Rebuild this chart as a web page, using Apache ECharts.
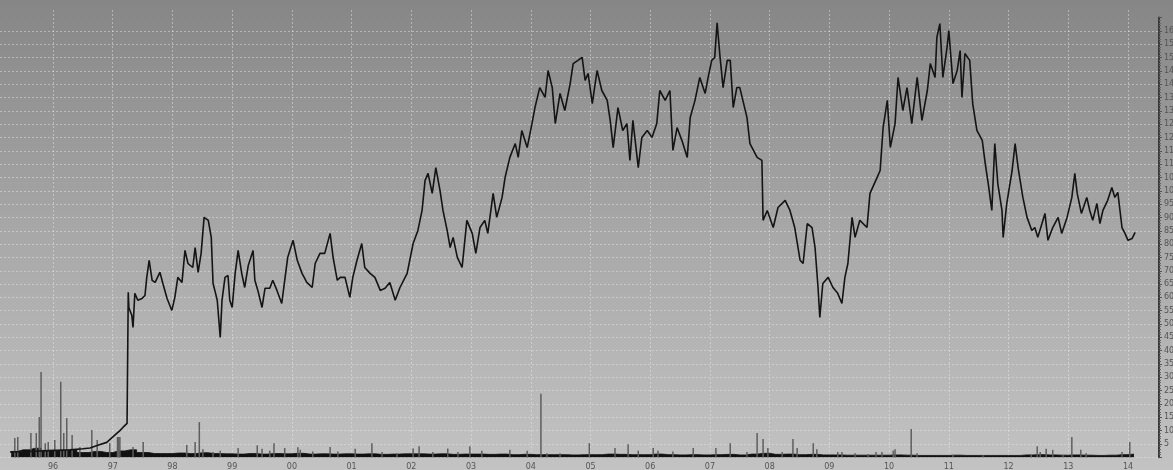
<!DOCTYPE html>
<html><head><meta charset="utf-8">
<script src="https://cdn.jsdelivr.net/npm/echarts@6/dist/echarts.min.js"></script>
<style>html,body{margin:0;padding:0;background:#a0a0a0;overflow:hidden}#c{width:1173px;height:470px}</style>
</head><body><div id="c"></div>
<script>
// price (decimal year, value)
const price = [
[1995.28,2.0],[1995.60,2.2],[1995.95,2.5],[1996.28,2.8],[1996.50,3.2],[1996.62,3.5],[1996.75,4.5],[1996.90,5.6],[1997.03,8.2],[1997.12,10.0],[1997.17,11.2],[1997.24,12.7],[1997.26,61.9],
[1997.27,56.2],[1997.32,53.2],[1997.34,48.7],[1997.37,61.5],[1997.42,58.9],[1997.49,59.6],[1997.54,60.7],[1997.57,67.5],[1997.61,73.9],[1997.66,66.4],[1997.71,65.6],[1997.79,69.4],[1997.84,65.2],[1997.91,59.6],[1997.99,55.1],
[1998.04,60],[1998.09,67.5],[1998.16,65.6],[1998.21,77.6],[1998.26,72.7],[1998.34,71.2],[1998.38,78.7],[1998.43,69.4],[1998.48,76.5],[1998.53,90],[1998.60,88.9],[1998.65,82.5],[1998.68,65.2],[1998.71,62.6],[1998.75,58.9],[1998.80,45],[1998.83,58.9],[1998.88,67.5],[1998.93,68.2],[1998.96,58.9],
[1999.00,56.2],[1999.05,69],[1999.10,77.6],[1999.16,69],[1999.21,63.7],[1999.27,72],[1999.35,77.6],[1999.38,66.4],[1999.43,62.6],[1999.50,56.2],[1999.55,63.4],[1999.63,63.4],[1999.68,66.4],[1999.75,62.6],[1999.83,57.7],[1999.88,66.4],[1999.93,75],
[2000.02,81.4],[2000.09,73.9],[2000.17,69],[2000.25,65.6],[2000.34,63.7],[2000.39,72.7],[2000.47,76.5],[2000.55,76.5],[2000.64,84],[2000.69,75],[2000.76,66.4],[2000.81,67.5],[2000.89,67.5],[2000.97,60],
[2001.02,67.5],[2001.09,73.9],[2001.17,80.2],[2001.22,71.2],[2001.31,69],[2001.39,67.5],[2001.48,62.6],[2001.56,63.4],[2001.64,65.6],[2001.73,58.9],[2001.81,63.7],[2001.93,69],
[2002.03,80.2],[2002.11,85.1],[2002.18,92.6],[2002.23,103.9],[2002.28,106.5],[2002.35,99],[2002.41,108.7],[2002.48,100.1],[2002.53,92.6],[2002.60,85.1],[2002.65,78.7],[2002.70,82.5],[2002.77,75],[2002.85,71.2],[2002.93,88.9],
[2003.02,84],[2003.08,76.5],[2003.15,86.2],[2003.23,88.9],[2003.28,84],[2003.37,99],[2003.43,90],[2003.52,97.5],[2003.57,105],[2003.65,112.5],[2003.74,117.7],[2003.79,112.5],[2003.85,122.6],[2003.94,116.2],
[2004.02,125.2],[2004.07,131.2],[2004.15,138.7],[2004.24,135],[2004.29,145.1],[2004.36,138.7],[2004.41,125.2],[2004.49,136.5],[2004.57,130.1],[2004.66,140.2],[2004.71,147.7],[2004.79,148.9],[2004.86,150],[2004.91,141.4],[2004.96,144],
[2005.03,132.7],[2005.11,145.1],[2005.19,137.6],[2005.28,133.9],[2005.33,126.4],[2005.38,116.2],[2005.46,131.2],[2005.54,122.6],[2005.61,125.2],[2005.66,111.4],[2005.71,126.4],[2005.80,108.7],[2005.86,120],[2005.95,122.6],
[2006.03,120],[2006.11,125.2],[2006.16,137.6],[2006.25,133.9],[2006.33,137.6],[2006.38,115.1],[2006.45,123.7],[2006.53,118.9],[2006.62,112.5],[2006.67,127.5],[2006.75,133.9],[2006.83,142.5],[2006.92,136.5],[2006.97,142.5],
[2007.03,148.9],[2007.08,150],[2007.12,163],[2007.17,150],[2007.22,138.7],[2007.29,148.9],[2007.34,148.9],[2007.39,131.2],[2007.45,138.7],[2007.50,138.7],[2007.62,127.5],[2007.67,117.7],[2007.79,112.5],[2007.87,111.4],[2007.89,88.9],[2007.96,92.6],
[2008.06,86.2],[2008.14,93.7],[2008.26,96.4],[2008.34,92.6],[2008.42,86.2],[2008.51,73.9],[2008.56,72.7],[2008.63,87.7],[2008.71,86.2],[2008.76,78.7],[2008.81,63.7],[2008.84,52.5],[2008.89,65.2],[2008.98,67.5],
[2009.06,63.7],[2009.14,61.5],[2009.21,57.7],[2009.26,67.5],[2009.31,72.7],[2009.38,90],[2009.43,82.5],[2009.51,88.9],[2009.63,86.2],[2009.68,99],[2009.80,105],[2009.85,107.6],[2009.90,123.7],[2009.97,133.9],
[2010.02,116.2],[2010.10,125.2],[2010.15,142.5],[2010.23,130.1],[2010.30,138.7],[2010.38,125.2],[2010.47,142.5],[2010.55,126.4],[2010.64,137.6],[2010.69,147.7],[2010.77,142.5],[2010.80,157.5],[2010.85,162.7],[2010.90,142.5],[2010.97,153.7],
[2011.00,160.1],[2011.07,140.2],[2011.14,145.1],[2011.19,152.6],[2011.22,135],[2011.27,151.5],[2011.35,148.9],[2011.40,132.7],[2011.47,122.6],[2011.56,118.9],[2011.61,110.2],[2011.66,102.7],[2011.72,92.6],[2011.77,117.7],[2011.82,102.7],[2011.89,92.6],[2011.91,82.5],[2011.97,95.2],
[2012.06,107.6],[2012.11,117.7],[2012.16,108.7],[2012.24,97.5],[2012.31,90],[2012.39,85.1],[2012.44,86.2],[2012.49,82.5],[2012.56,87.7],[2012.61,91.5],[2012.66,81.4],[2012.74,86.2],[2012.83,90],[2012.89,84],[2012.98,90],
[2013.06,97.5],[2013.11,106.5],[2013.15,99],[2013.22,91.5],[2013.31,97.5],[2013.36,92.6],[2013.41,88.9],[2013.48,95.2],[2013.53,87.7],[2013.58,92.6],[2013.66,96.4],[2013.73,101.2],[2013.78,97.5],[2013.83,99.4],[2013.90,86.2],[2013.95,84],
[2014.00,81.4],[2014.07,82.1],[2014.12,84.4]
];

// volume spikes (decimal year, height in price units)
const volSpikes = [
[1995.36,7.2],[1995.41,7.6],[1995.63,9.1],[1995.72,9.1],[1995.77,15.1],[1995.80,32],[1995.87,5.3],[1995.92,5.7],[1996.03,6.5],[1996.13,28.3],[1996.18,9.1],[1996.23,14.7],[1996.32,8.4],[1996.45,3.9],[1996.65,10.2],[1996.74,6.5],[1996.95,5.3],[1997.08,7.6],[1997.10,7.6],[1997.12,7.6],[1997.34,3.9],[1997.51,5.7],
[1998.24,4.6],[1998.38,5.7],[1998.45,13.2],[1998.51,3],[1998.68,2],[1998.80,2.5],[1999.10,3.5],[1999.42,4.5],[1999.50,3.2],[1999.63,2.5],[1999.70,5.3],[1999.88,3.5],[2000.10,3.8],[2000.14,2.8],[2000.35,2.2],[2000.64,3.9],[2000.77,2.2],
[2001.06,3.2],[2001.34,5.3],[2001.51,2],[2001.76,1.5],[2002.03,3.3],[2002.13,4.1],[2002.36,2],[2002.61,3.3],[2002.78,2],[2002.98,4.1],[2003.18,2.5],[2003.65,2.8],[2003.94,2.5],[2004.17,23.8],[2004.27,1.5],[2004.49,1.5],[2004.98,5.3],
[2005.41,3.5],[2005.63,4.9],[2005.80,2.5],[2006.05,3.5],[2006.13,2.5],[2006.38,2.2],[2006.72,3.5],[2007.10,3.5],[2007.34,5.3],[2007.62,2],[2007.79,9.1],[2007.89,6.9],[2007.97,3.5],[2008.21,2],[2008.39,6.9],[2008.46,3.5],[2008.73,5.3],[2008.79,3],
[2009.14,2],[2009.21,2],[2009.43,1.5],[2009.65,1.2],[2009.78,2],[2009.88,2],[2010.07,2.5],[2010.10,3],[2010.37,10.6],[2010.47,1.5],[2011.07,1],[2011.57,0.8],[2012.38,1],[2012.48,4.1],[2012.53,2],[2012.63,3.2],[2012.74,2.8],[2012.91,1],
[2013.06,7.6],[2013.21,2.8],[2013.30,1.5],[2013.90,2],[2014.03,5.7]
];

// dense dark volume band (decimal year, height)
const volBase = [
[1995.3,2.2],[1995.5,2.8],[1995.7,3.4],[1995.9,2.6],[1996.1,2.4],[1996.3,2.8],[1996.5,1.8],[1996.7,2.2],[1996.9,1.8],[1997.1,2.4],[1997.3,2.8],[1997.5,1.8],[1997.7,1.4],[1997.9,1.4],
[1998.1,1.6],[1998.3,1.4],[1998.5,1.7],[1998.7,1.4],[1998.9,1.3],[1999.1,1.2],[1999.3,1.4],[1999.5,1.2],[1999.7,1.4],[1999.9,1.3],[2000.1,1.5],[2000.3,1.2],[2000.5,1.3],[2000.7,1.2],[2000.9,1.3],
[2001.1,1.2],[2001.3,1.3],[2001.5,1.1],[2001.7,1.2],[2001.9,1.3],[2002.1,1.3],[2002.3,1.2],[2002.5,1.3],[2002.7,1.1],[2002.9,1.2],[2003.1,1.2],[2003.3,1.1],[2003.5,1.2],[2003.7,1.0],[2003.9,1.1],
[2004.1,1.0],[2004.3,1.0],[2004.5,1.0],[2004.7,0.9],[2004.9,1.0],[2005.1,1.0],[2005.3,1.2],[2005.5,1.1],[2005.7,1.0],[2005.9,1.0],[2006.1,1.2],[2006.3,1.0],[2006.5,0.9],[2006.7,1.0],[2006.9,0.9],
[2007.1,1.0],[2007.3,1.1],[2007.5,0.9],[2007.7,1.2],[2007.9,1.5],[2008.1,1.1],[2008.3,1.2],[2008.5,1.0],[2008.7,1.1],[2008.9,0.9],[2009.1,0.9],[2009.3,0.8],[2009.5,0.8],[2009.7,0.8],[2009.9,0.8],
[2010.1,0.9],[2010.3,0.8],[2010.5,0.7],[2010.7,0.7],[2010.9,0.7],[2011.1,0.8],[2011.3,0.7],[2011.5,0.7],[2011.7,0.7],[2011.9,0.7],[2012.1,0.7],[2012.3,0.9],[2012.5,1.0],[2012.7,0.9],[2012.9,0.8],
[2013.1,0.9],[2013.3,0.8],[2013.5,0.7],[2013.7,0.8],[2013.9,1.0],[2014.1,1.2]
];

const yearLabel = v => (v <= 1995 || v >= 2015) ? '' : String(Math.round(v)).slice(2);

const chart = echarts.init(document.getElementById('c'), null, {renderer:'canvas'});
const gridCol = 'rgba(235,235,235,0.45)';
const nLines = 34;
const splitCols = [];
for (let i = 0; i < nLines; i++) splitCols.push(i === nLines - 1 ? 'rgba(0,0,0,0)' : gridCol);

chart.setOption({
  animation: false,
  backgroundColor: {type:'linear', x:0, y:0, x2:0, y2:1,
    colorStops:[{offset:0,color:'#868686'},{offset:0.5,color:'#a8a8a8'},{offset:1,color:'#c3c3c3'}]},
  grid: [
    {left:-6.72, right:-14.7, top:10, bottom:12.7, outerBoundsMode:'none', containLabel:false},
    {left:0, right:14, top:17.6, bottom:12.7, outerBoundsMode:'none', containLabel:false}
  ],
  xAxis: [
    {type:'value', gridIndex:0, min:1995, max:2015, interval:1,
     axisLine:{show:false}, axisTick:{show:false},
     axisLabel:{formatter:yearLabel, color:'#555', fontSize:8, margin:6, fontFamily:'DejaVu Sans'},
     splitLine:{show:true, lineStyle:{color:gridCol, type:[2,2], width:1}}},
    {type:'value', gridIndex:1, min:0, max:1, show:false}
  ],
  yAxis: [
    {type:'value', gridIndex:0, min:0, max:167.8, show:false, splitLine:{show:false}},
    {type:'value', gridIndex:1, position:'right', min:0, max:165, interval:5,
     axisLine:{show:true, onZero:false, lineStyle:{color:'#3a3a3a', width:2}},
     axisTick:{show:true, length:3, lineStyle:{color:'#555'}},
     minorTick:{show:true, splitNumber:5, length:2, lineStyle:{color:'#666'}},
     axisLabel:{color:'#555', fontSize:8, margin:5, fontFamily:'DejaVu Sans',
       formatter: v => (v === 0 || v === 165) ? '' : String(v)},
     splitLine:{show:true, lineStyle:{color:splitCols, type:[2,2], width:1}}}
  ],
  series: [
    {type:'line', xAxisIndex:0, yAxisIndex:0, data:volBase, step:'middle', symbol:'none',
     lineStyle:{width:0.8, color:'#111'}, areaStyle:{color:'#111', opacity:1}, z:2},
    {type:'bar', xAxisIndex:0, yAxisIndex:0, data:volSpikes, barWidth:1.5,
     itemStyle:{color:'#5e5e5e'}, z:3},
    {type:'line', xAxisIndex:0, yAxisIndex:0, data:price, symbol:'none',
     lineStyle:{width:1.6, color:'#141414'}, z:5}
  ]
});
</script>
</body></html>
